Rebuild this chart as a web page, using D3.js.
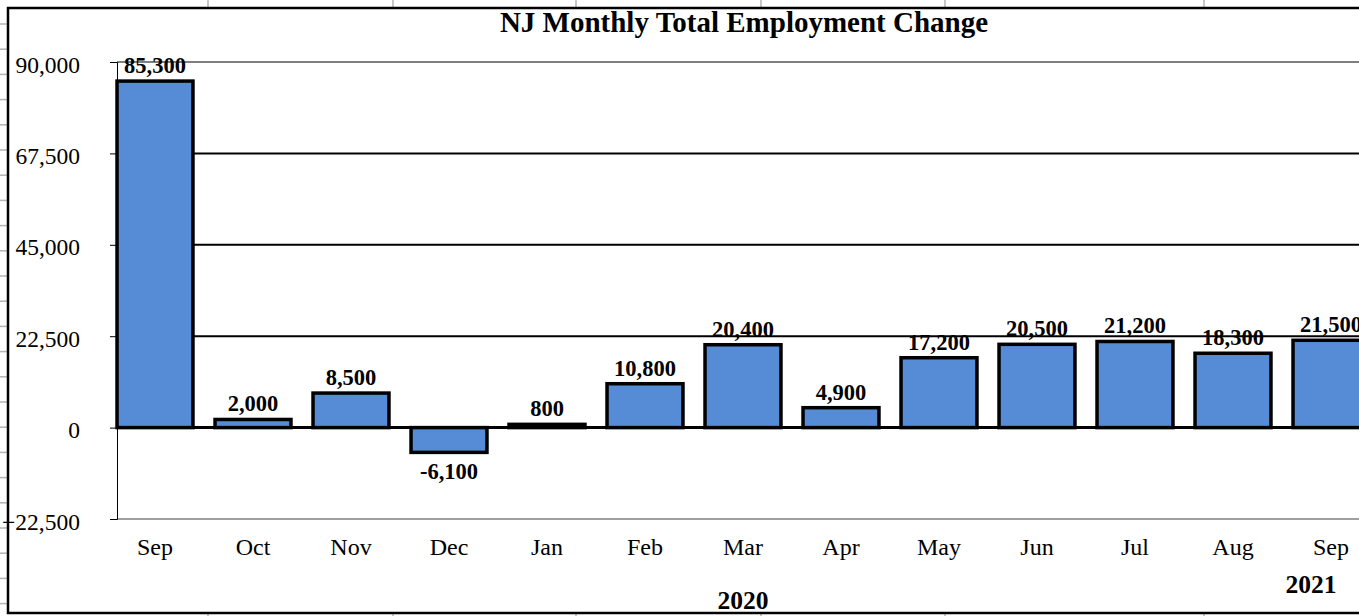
<!DOCTYPE html>
<html>
<head>
<meta charset="utf-8">
<script src="https://cdn.jsdelivr.net/npm/d3@7"></script>
<style>
  html, body { margin: 0; padding: 0; background: #fff; }
  svg { display: block; font-family: "Liberation Serif", "Times New Roman", serif; }
</style>
</head>
<body>
<svg id="chart"></svg>
<script>
// chart data
var months = ["Sep", "Oct", "Nov", "Dec", "Jan", "Feb", "Mar", "Apr", "May", "Jun", "Jul", "Aug", "Sep"];
var changes = [85300, 2000, 8500, -6100, 800, 10800, 20400, 4900, 17200, 20500, 21200, 18300, 21500];
var yTicks = [-22500, 0, 22500, 45000, 67500, 90000];
var yearLabels = ["2020", "2021"];
var title = "NJ Monthly Total Employment Change";

var W = 1359, H = 616;
var svg = d3.select("#chart").attr("width", W).attr("height", H);

// spreadsheet cells peeking out around the chart
var cols = [208, 393, 576, 761, 945, 1204];
svg.selectAll(".colline").data(cols).enter().append("line")
  .attr("x1", function(d) { return d; }).attr("x2", function(d) { return d; })
  .attr("y1", 0).attr("y2", 7)
  .attr("stroke", "#b4b4b4").attr("stroke-width", 1.5);
svg.selectAll(".colfoot").data(cols).enter().append("line")
  .attr("x1", function(d) { return d; }).attr("x2", function(d) { return d; })
  .attr("y1", 614).attr("y2", 616)
  .attr("stroke", "#b4b4b4").attr("stroke-width", 1.5);
svg.selectAll(".rowline").data(d3.range(24, 616, 25.2)).enter().append("line")
  .attr("x1", 0).attr("x2", 7)
  .attr("y1", function(d) { return d; }).attr("y2", function(d) { return d; })
  .attr("stroke", "#b4b4b4").attr("stroke-width", 1.5);

// chart frame
svg.append("rect")
  .attr("x", 8).attr("y", 8).attr("width", W + 20).attr("height", 605)
  .attr("fill", "#fff").attr("stroke", "#000").attr("stroke-width", 2.5);

// scales
var x = d3.scaleBand()
  .domain(d3.range(months.length))
  .range([106, 106 + 13 * 98])
  .paddingInner(0.225)
  .paddingOuter(0.1125);

var y = d3.scaleLinear()
  .domain([-22500, 90000])
  .range([519, 62]);

var axisX = 117;

// gridlines
svg.selectAll(".grid").data(yTicks).enter().append("line")
  .attr("x1", axisX).attr("x2", W)
  .attr("y1", function(d) { return y(d); })
  .attr("y2", function(d) { return y(d); })
  .attr("stroke", function(d) { return (d === 90000 || d === -22500) ? "#7f7f7f" : "#000"; })
  .attr("stroke-width", function(d) { return d === -22500 ? 1.5 : 2; });

// y axis
var yAxis = d3.axisLeft(y)
  .tickValues(yTicks)
  .tickSize(7)
  .tickFormat(d3.format(","));

var gy = svg.append("g")
  .attr("transform", "translate(" + axisX + ",0)")
  .call(yAxis);
gy.select(".domain").attr("stroke", "#000").attr("stroke-width", 1);
gy.selectAll(".tick line").attr("stroke", "#000");
gy.selectAll(".tick text")
  .attr("x", -37)
  .attr("dy", "0.43em")
  .attr("fill", "#000")
  .style("font-size", "23.5px")
  .style("font-family", "Liberation Serif, serif");

// bars
svg.selectAll(".bar").data(changes).enter().append("rect")
  .attr("class", "bar")
  .attr("x", function(d, i) { return x(i); })
  .attr("width", x.bandwidth())
  .attr("y", function(d) { return y(Math.max(0, d)); })
  .attr("height", function(d) { return Math.abs(y(d) - y(0)); })
  .attr("fill", "#558cd5")
  .attr("stroke", "#000")
  .attr("stroke-width", 3.5);

// zero line on top
svg.append("line")
  .attr("x1", axisX).attr("x2", W)
  .attr("y1", y(0)).attr("y2", y(0))
  .attr("stroke", "#000").attr("stroke-width", 3);

// value labels
var fmt = d3.format(",");
svg.selectAll(".val").data(changes).enter().append("text")
  .attr("x", function(d, i) { return x(i) + x.bandwidth() / 2; })
  .attr("y", function(d) { return d >= 0 ? y(d) - 8 : y(d) + 27; })
  .attr("text-anchor", "middle")
  .style("font-size", "22.5px")
  .style("font-weight", "bold")
  .text(function(d) { return fmt(d).replace("−", "-"); });

// month labels
svg.selectAll(".month").data(months).enter().append("text")
  .attr("x", function(d, i) { return x(i) + x.bandwidth() / 2; })
  .attr("y", 555)
  .attr("text-anchor", "middle")
  .style("font-size", "24px")
  .text(function(d) { return d; });

// year labels
svg.append("text")
  .attr("x", x(6) + x.bandwidth() / 2)
  .attr("y", 609)
  .attr("text-anchor", "middle")
  .style("font-size", "25.5px")
  .style("font-weight", "bold")
  .text(yearLabels[0]);

svg.append("text")
  .attr("x", x(12) + x.bandwidth() / 2 - 20)
  .attr("y", 593)
  .attr("text-anchor", "middle")
  .style("font-size", "25.5px")
  .style("font-weight", "bold")
  .text(yearLabels[1]);

// title
svg.append("text")
  .attr("x", 744)
  .attr("y", 32)
  .attr("text-anchor", "middle")
  .style("font-size", "29px")
  .style("font-weight", "bold")
  .text(title);
</script>
</body>
</html>
